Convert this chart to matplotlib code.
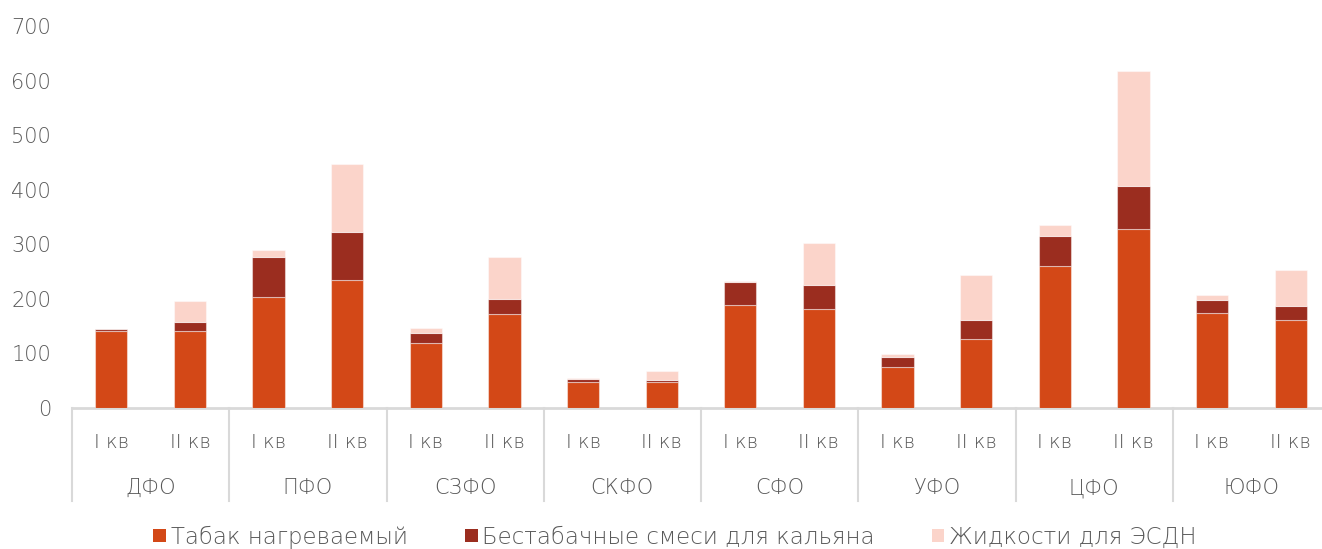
import numpy as np
import matplotlib.pyplot as plt
from matplotlib.patches import Patch

# данные (оценка по рисунку)
regions = ['ДФО', 'ПФО', 'СЗФО', 'СКФО', 'СФО', 'УФО', 'ЦФО', 'ЮФО']
quarters = ['I кв', 'II кв']

tabak = [141, 142, 203, 234, 120, 172, 47, 47, 188, 181, 76, 126, 260, 328, 175, 161]
smesi = [3, 15, 73, 88, 18, 27, 6, 4, 42, 44, 18, 35, 55, 79, 22, 26]
zhidk = [1, 39, 14, 126, 9, 78, 2, 16, 3, 78, 5, 82, 20, 211, 10, 66]

series_names = ['Табак нагреваемый', 'Бестабачные смеси для кальяна', 'Жидкости для ЭСДН']
colors = ['#D34817', '#9B2D1F', '#FBD4CA']

plt.rcParams['font.family'] = ['DejaVu Sans']
plt.rcParams['font.weight'] = 'light'
text_color = '#595959'
axis_color = '#D9D9D9'

W, H = 1322, 549
fig = plt.figure(figsize=(W / 100, H / 100), dpi=100)
ax = fig.add_axes([72 / W, 1 - 408 / H, 1258 / W, (408 - 26) / H])

x = np.arange(len(tabak))
bottom = np.zeros(len(tabak))
edge = (1, 1, 1, 0.45)
for vals, col in zip([tabak, smesi, zhidk], colors):
    ax.bar(x, vals, width=0.41, bottom=bottom, color=col, edgecolor=edge, linewidth=0.8, zorder=3)
    bottom += np.array(vals)

ax.set_xlim(-0.5, len(tabak) - 0.5)
ax.set_ylim(0, 700)
ax.set_yticks(range(0, 701, 100))
ax.tick_params(axis='y', length=0, pad=15, labelsize=15, labelcolor=text_color)
ax.set_xticks([])

for s in ['top', 'right', 'left']:
    ax.spines[s].set_visible(False)
ax.spines['bottom'].set_color(axis_color)
ax.spines['bottom'].set_linewidth(2)

# подписи кварталов и регионов
trans = ax.get_xaxis_transform()
for i in x:
    ax.text(i, -34 / 382, quarters[i % 2], transform=trans, ha='center', va='center',
            fontsize=14, color=text_color)
for g, name in enumerate(regions):
    ax.text(2 * g + 0.5, -80 / 382, name, transform=trans, ha='center', va='center',
            fontsize=15, color=text_color)
for g in range(len(regions) + 1):
    ax.plot([2 * g - 0.5] * 2, [0, -93 / 382], transform=trans, color=axis_color,
            lw=1.5, clip_on=False, zorder=1)

handles = [Patch(facecolor=c, edgecolor='none') for c in colors]
fig.legend(handles, series_names, loc='center', bbox_to_anchor=(675 / W, 1 - 537 / H),
           ncol=3, frameon=False, fontsize=16.5, handlelength=0.55, handleheight=0.55,
           handletextpad=0.2, columnspacing=2.5, labelcolor=text_color)

fig.savefig('out.png', dpi=100)
